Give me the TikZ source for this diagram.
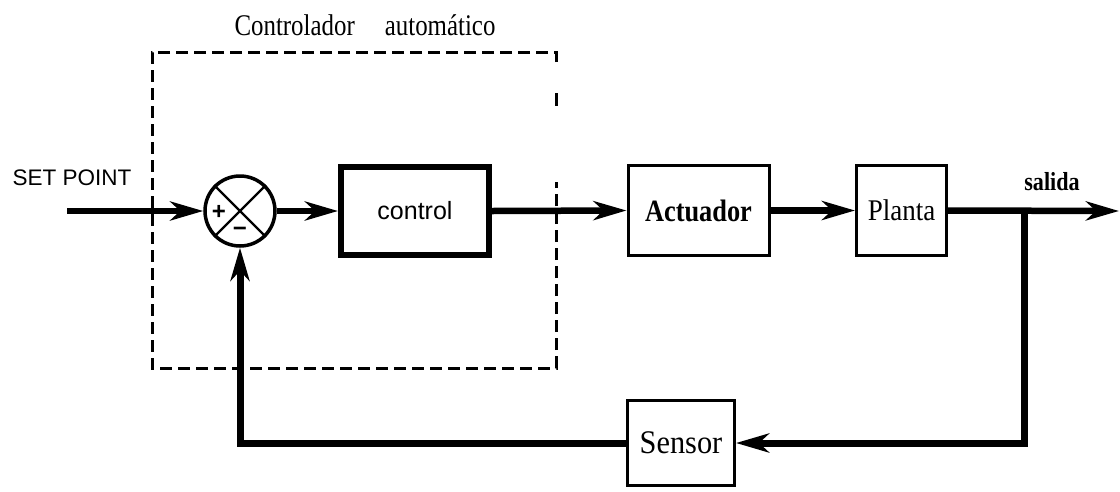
\documentclass[tikz,border=0pt]{standalone}
\usepackage{fontspec}
\setmainfont{Liberation Serif}
\newfontfamily\sansf{Liberation Sans}
\newfontfamily\titf[FakeStretch=0.83]{Liberation Serif}
\newfontfamily\actf[FakeStretch=0.85]{Liberation Serif}
\newfontfamily\plaf[FakeStretch=0.9]{Liberation Serif}
\newfontfamily\senf[FakeStretch=0.92]{Liberation Serif}
\newfontfamily\salf[FakeStretch=0.85]{Liberation Serif}
\usetikzlibrary{arrows.meta}
\begin{document}
\begin{tikzpicture}[x=1pt,y=-1pt,
  blk/.style={draw=black,line width=3pt,inner sep=0pt,fill=white},
  sig/.style={line width=6.5pt},
  tip/.style={-{Stealth[length=33pt,width=19pt,inset=10pt]}},
  dbox/.style={line width=3pt,dash pattern=on 12pt off 6pt}]
\useasboundingbox (0,0) rectangle (1120,491);
% dashed controller box
\draw[dbox] (556,62) -- (556,52) -- (152,52) -- (152,368) -- (556,368) -- (556,182);
\draw[line width=3pt] (556,93) -- (556,106);
% blocks
\node[draw=black,line width=6pt,minimum width=148pt,minimum height=88pt,inner sep=0pt] (ctrl) at (415,211) {\sansf\fontsize{25}{28}\selectfont control};
\node[blk,minimum width=141pt,minimum height=90pt] (act) at (698.5,210.5) {\actf\bfseries\fontsize{31}{34}\selectfont Actuador};
\node[blk,minimum width=90pt,minimum height=90pt] (pla) at (901.5,210.5) {\plaf\fontsize{30}{33}\selectfont Planta};
\node[blk,minimum width=107pt,minimum height=85pt] (sen) at (681,443) {\senf\fontsize{33}{36}\selectfont Sensor};
% summing junction
\node[draw=black,line width=3.5pt,circle,minimum size=70pt,inner sep=0pt] (sum) at (240,211) {};
\draw[line width=2.2pt] (sum.north west) -- (sum.south east) (sum.north east) -- (sum.south west);
\node (plus) at (219,212) {\sansf\bfseries\fontsize{24}{24}\selectfont +};
\node (minus) at (240,232) {\sansf\bfseries\fontsize{24}{24}\selectfont \textminus};
% texts
\node (title) at (365,25) {\titf\fontsize{30}{33}\selectfont Controlador\hspace{30pt}automático};
\node (sp) at (72,178) {\sansf\fontsize{22.5}{25}\selectfont SET POINT};
\node (sal) at (1052,182) {\salf\bfseries\fontsize{26}{28}\selectfont salida};
% connectors
\coordinate (in) at (67,211);
\coordinate (out) at (1119,211);
\coordinate (br) at (1024,211);
\draw[sig,tip] (in) -- (sum.west);
\draw[sig,tip] (sum.east) -- (ctrl.west);
\draw[sig,tip] (ctrl.east) -- (act.west);
\draw[sig,tip] (act.east) -- (pla.west);
\draw[sig,tip] (pla.east) -- (out);
\draw[line width=7pt,tip] (br) |- (sen.east);
\draw[line width=7pt,tip] (sen.west) -| (sum.south);
\end{tikzpicture}
\end{document}
